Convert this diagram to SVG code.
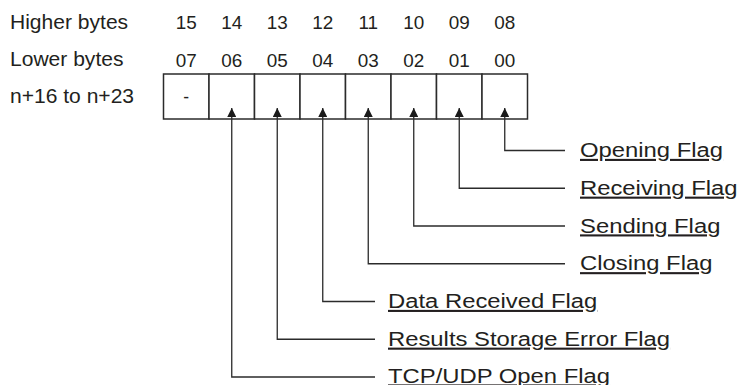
<svg xmlns="http://www.w3.org/2000/svg" width="740" height="385" viewBox="0 0 740 385">
<style>
text{font-family:"Liberation Sans",Arial,Helvetica,sans-serif;fill:#231f20}
.hdr{font-size:19.5px}
.num{font-size:17.5px;text-anchor:middle}
.lbl{font-size:21px;text-decoration:underline}
.cell{fill:#fff;stroke:#2b2b2b;stroke-width:1.5}
.con{fill:none;stroke:#2b2b2b;stroke-width:1.3}
</style>
<defs>
<marker id="ah" viewBox="0 0 10 10" refX="10" refY="5" markerUnits="userSpaceOnUse" markerWidth="9" markerHeight="9" orient="auto-start-reverse">
<path d="M0,0 L10,5 L0,10 z" fill="#1a1a1a"/>
</marker>
</defs>
<g id="headers">
<text class="hdr" transform="translate(10 29) scale(1.08 1)">Higher bytes</text>
<text class="hdr" transform="translate(10 66) scale(1.08 1)">Lower bytes</text>
<text class="hdr" transform="translate(10 103) scale(1.08 1)">n+16 to n+23</text>
</g>
<g id="bitnumbers">
<text class="num" transform="translate(186.25 28.5) scale(1.08 1)">15</text>
<text class="num" transform="translate(231.75 28.5) scale(1.08 1)">14</text>
<text class="num" transform="translate(277.25 28.5) scale(1.08 1)">13</text>
<text class="num" transform="translate(322.75 28.5) scale(1.08 1)">12</text>
<text class="num" transform="translate(368.25 28.5) scale(1.08 1)">11</text>
<text class="num" transform="translate(413.75 28.5) scale(1.08 1)">10</text>
<text class="num" transform="translate(459.25 28.5) scale(1.08 1)">09</text>
<text class="num" transform="translate(504.75 28.5) scale(1.08 1)">08</text>
<text class="num" transform="translate(186.25 66.5) scale(1.08 1)">07</text>
<text class="num" transform="translate(231.75 66.5) scale(1.08 1)">06</text>
<text class="num" transform="translate(277.25 66.5) scale(1.08 1)">05</text>
<text class="num" transform="translate(322.75 66.5) scale(1.08 1)">04</text>
<text class="num" transform="translate(368.25 66.5) scale(1.08 1)">03</text>
<text class="num" transform="translate(413.75 66.5) scale(1.08 1)">02</text>
<text class="num" transform="translate(459.25 66.5) scale(1.08 1)">01</text>
<text class="num" transform="translate(504.75 66.5) scale(1.08 1)">00</text>
</g>
<g id="cell-07"><rect class="cell" x="163.5" y="74" width="45.5" height="45"/><text class="num" x="186.25" y="103">-</text></g>
<g id="cell-06"><rect class="cell" x="209" y="74" width="45.5" height="45"/></g>
<g id="cell-05"><rect class="cell" x="254.5" y="74" width="45.5" height="45"/></g>
<g id="cell-04"><rect class="cell" x="300" y="74" width="45.5" height="45"/></g>
<g id="cell-03"><rect class="cell" x="345.5" y="74" width="45.5" height="45"/></g>
<g id="cell-02"><rect class="cell" x="391" y="74" width="45.5" height="45"/></g>
<g id="cell-01"><rect class="cell" x="436.5" y="74" width="45.5" height="45"/></g>
<g id="cell-00"><rect class="cell" x="482" y="74" width="45.5" height="45"/></g>
<g id="connectors">
<path class="con" marker-start="url(#ah)" d="M504.75,108 V150.5 H565"/>
<path class="con" marker-start="url(#ah)" d="M459.25,108 V188.25 H565"/>
<path class="con" marker-start="url(#ah)" d="M413.75,108 V226 H565"/>
<path class="con" marker-start="url(#ah)" d="M368.25,108 V263.75 H565"/>
<path class="con" marker-start="url(#ah)" d="M322.75,108 V301.5 H375"/>
<path class="con" marker-start="url(#ah)" d="M277.25,108 V339.25 H375"/>
<path class="con" marker-start="url(#ah)" d="M231.75,108 V377 H375"/>
</g>
<g id="label-opening"><text class="lbl" transform="translate(580 157) scale(1.135 1)">Opening Flag</text></g>
<g id="label-receiving"><text class="lbl" transform="translate(580 194.75) scale(1.135 1)">Receiving Flag</text></g>
<g id="label-sending"><text class="lbl" transform="translate(580 232.5) scale(1.135 1)">Sending Flag</text></g>
<g id="label-closing"><text class="lbl" transform="translate(580 270.25) scale(1.135 1)">Closing Flag</text></g>
<g id="label-datareceived"><text class="lbl" transform="translate(388 308) scale(1.135 1)">Data Received Flag</text></g>
<g id="label-results"><text class="lbl" transform="translate(388 345.75) scale(1.135 1)">Results Storage Error Flag</text></g>
<g id="label-tcpudp"><text class="lbl" transform="translate(388 382.5) scale(1.135 1)">TCP/UDP Open Flag</text></g>
</svg>
